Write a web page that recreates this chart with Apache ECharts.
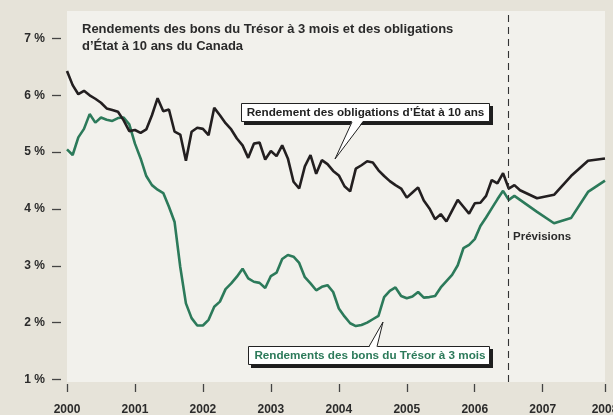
<!DOCTYPE html>
<html><head><meta charset="utf-8">
<script src="https://cdn.jsdelivr.net/npm/echarts@6/dist/echarts.min.js"></script>
<style>html,body{margin:0;padding:0;background:#e6e3d9}#c{width:613px;height:415px}</style>
</head><body><div id="c"></div>
<script>
// Year tick labels
const yearLabels = ['2000','2001','2002','2003','2004','2005','2006','2007','2008'];
// Y tick values (%)
const yTicks = [1,2,3,4,5,6,7];
// Monthly values Jan 2000 .. Dec 2007 (null = no point; forecast is quarterly)
const bond10y = [
 6.43,6.18,6.02,6.08,6.00,5.94,5.87,5.77,5.74,5.71,5.56,5.37,
 5.39,5.34,5.40,5.65,5.95,5.72,5.75,5.36,5.31,4.85,5.36,5.43,
 5.41,5.30,5.78,5.65,5.51,5.40,5.24,5.12,4.90,5.15,5.17,4.87,
 5.02,4.93,5.12,4.89,4.48,4.36,4.75,4.95,4.62,4.86,4.79,4.67,
 4.59,4.40,4.31,4.71,4.77,4.84,4.82,4.68,4.58,4.49,4.42,4.36,
 4.20,4.29,4.38,4.15,4.01,3.82,3.91,3.78,3.97,4.16,4.04,3.92,
 4.10,4.11,4.23,4.51,4.45,4.63,4.36,4.42,4.33,null,null,4.19,
 null,null,4.25,null,null,4.58,null,null,4.85,null,null,4.89
];
const tbill3m = [
 5.05,4.95,5.26,5.41,5.67,5.52,5.61,5.57,5.55,5.60,5.61,5.49,
 5.15,4.89,4.58,4.42,4.34,4.28,4.04,3.77,2.98,2.34,2.08,1.95,
 1.95,2.05,2.28,2.37,2.59,2.69,2.81,2.95,2.78,2.72,2.70,2.61,
 2.82,2.88,3.12,3.19,3.16,3.05,2.80,2.69,2.57,2.63,2.66,2.54,
 2.25,2.11,1.99,1.94,1.96,2.00,2.06,2.12,2.45,2.56,2.62,2.47,
 2.43,2.46,2.54,2.44,2.45,2.47,2.62,2.73,2.84,3.01,3.31,3.37,
 3.47,3.70,3.85,4.01,4.17,4.32,4.16,4.23,4.16,null,null,3.95,
 null,null,3.75,null,null,3.84,null,null,4.30,null,null,4.50
];
const forecastStartIndex = 78;

const months = [];
for (let y = 2000; y <= 2007; y++) for (let m = 1; m <= 12; m++) months.push(y + '-' + (m < 10 ? '0' + m : m));
const lastIdx = months.length - 1;
const showTick = (i) => i % 12 === 0 || i === lastIdx;

const FONT = '"Liberation Sans Narrow","Liberation Sans",Arial,sans-serif';
const DARK = '#2b2b2b';
const GREEN = '#2c7a5a';

const chart = echarts.init(document.getElementById('c'), null, {renderer: 'canvas'});
chart.setOption({
  animation: false,
  backgroundColor: '#e6e3d9',
  grid: {left: 67, right: 8, top: 11, bottom: 33, show: true, backgroundColor: '#f2f1ec', borderWidth: 0,
    outerBoundsMode: 'none', containLabel: false},
  xAxis: {
    type: 'category', data: months, boundaryGap: false, offset: 2,
    axisLine: {show: false},
    axisTick: {show: true, length: 8, interval: (i) => showTick(i), lineStyle: {color: '#444', width: 1.3}},
    axisLabel: {
      interval: (i) => showTick(i), margin: 20, hideOverlap: false, showMaxLabel: true, showMinLabel: true,
      formatter: (v, i) => yearLabels[i === lastIdx ? yearLabels.length - 1 : Math.round(i / 12)],
      fontFamily: FONT, fontWeight: 'bold', fontSize: 12, color: DARK
    },
    splitLine: {show: false}
  },
  yAxis: {
    type: 'value', min: 0.956, max: 7.484, offset: 6,
    axisLine: {show: false},
    axisTick: {show: true, length: 9, customValues: yTicks, lineStyle: {color: '#444', width: 1.3}},
    axisLabel: {
      customValues: yTicks, margin: 16, formatter: (v) => v + ' %',
      fontFamily: FONT, fontWeight: 'bold', fontSize: 12, color: DARK,
      padding: [0, 0, 6, 0]
    },
    splitLine: {show: false}
  },
  series: [
    {
      name: 'bond10y', type: 'line', data: bond10y, connectNulls: true, symbol: 'none',
      lineStyle: {color: '#231f20', width: 2.6}, z: 3,
      markLine: {
        silent: true, symbol: ['none', 'none'], label: {show: false},
        lineStyle: {color: '#333', width: 1.1, type: [7, 5]},
        data: [{xAxis: months[forecastStartIndex]}]
      }
    },
    {
      name: 'tbill3m', type: 'line', data: tbill3m, connectNulls: true, symbol: 'none',
      lineStyle: {color: GREEN, width: 2.6}, z: 2
    }
  ],
  graphic: [
    {type: 'text', left: 82, top: 21, z: 10, style: {
      text: 'Rendements des bons du Trésor à 3 mois et des obligations\nd’État à 10 ans du Canada',
      font: 'bold 13px ' + FONT, fill: DARK, lineHeight: 17}},
    // bond label box
    {type: 'rect', z: 9, shape: {x: 244, y: 106, width: 249, height: 19}, style: {fill: '#1e1e1e'}},
    {type: 'rect', z: 10, shape: {x: 241.5, y: 103.5, width: 248, height: 18},
      style: {fill: '#fff', stroke: '#222', lineWidth: 1}},
    {type: 'polygon', z: 11, shape: {points: [[352, 121], [335, 159], [363, 121]]}, style: {fill: '#fff'}},
    {type: 'polyline', z: 11, shape: {points: [[352, 122], [335, 159], [363, 122]]}, style: {stroke: '#222', lineWidth: 1, fill: null}},
    {type: 'text', z: 12, x: 365.5, y: 112.5, style: {text: 'Rendement des obligations d’État à 10 ans',
      font: 'bold 11.7px ' + FONT, fill: '#222', align: 'center', verticalAlign: 'middle'}},
    // t-bill label box
    {type: 'rect', z: 9, shape: {x: 251, y: 349, width: 242, height: 19}, style: {fill: '#1e1e1e'}},
    {type: 'rect', z: 10, shape: {x: 248.5, y: 346.5, width: 241, height: 18},
      style: {fill: '#fff', stroke: '#222', lineWidth: 1}},
    {type: 'polygon', z: 11, shape: {points: [[369, 347.5], [383, 322], [377, 347.5]]}, style: {fill: '#fff'}},
    {type: 'polyline', z: 11, shape: {points: [[369, 346.5], [383, 322], [377, 346.5]]}, style: {stroke: '#222', lineWidth: 1, fill: null}},
    {type: 'text', z: 12, x: 370, y: 355.5, style: {text: 'Rendements des bons du Trésor à 3 mois',
      font: 'bold 11.7px ' + FONT, fill: GREEN, align: 'center', verticalAlign: 'middle'}},
    {type: 'text', z: 10, left: 513, top: 231, style: {text: 'Prévisions', font: 'bold 11.5px ' + FONT, fill: DARK}}
  ]
});
</script></body></html>
